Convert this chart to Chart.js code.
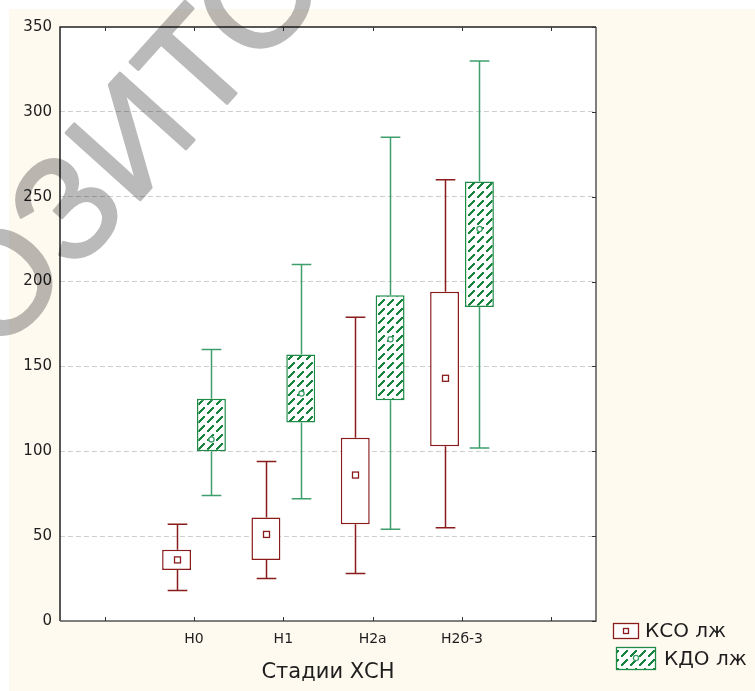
<!DOCTYPE html>
<html>
<head>
<meta charset="utf-8">
<script src="https://cdn.jsdelivr.net/npm/chart.js@4"></script>
<style>
  html, body { margin: 0; padding: 0; background: #fff; }
</style>
</head>
<body>
<canvas id="myChart" width="755" height="691"></canvas>
<script>
// stages on the x axis (empty slots at both ends, as in the original)
const stages = ['', 'Н0', 'Н1', 'Н2а', 'Н2б-3', ''];

// КСО лж
const ksoMin  = [null, 18, 25, 28, 55, null];
const ksoQ1   = [null, 30, 36, 57, 103, null];
const ksoMean = [null, 36, 51, 86, 143, null];
const ksoQ3   = [null, 42, 61, 108, 194, null];
const ksoMax  = [null, 57, 94, 179, 260, null];

// КДО лж
const kdoMin  = [null, 74, 72, 54, 102, null];
const kdoQ1   = [null, 100, 117, 130, 185, null];
const kdoMean = [null, 107, 134, 166, 231, null];
const kdoQ3   = [null, 131, 157, 192, 259, null];
const kdoMax  = [null, 160, 210, 285, 330, null];

const yTicks = [0, 50, 100, 150, 200, 250, 300, 350];

const RED = '#8a1c1c';
const GREEN = '#1d8a45';
const GREEN_LIGHT = '#3f9f6c';
const FONT = 'DejaVu Sans';

// diagonal dashed hatch for the КДО boxes
function hatch() {
    let c = document.createElement('canvas');
    c.width = 9;
    c.height = 9;
    let g = c.getContext('2d');
    g.fillStyle = '#fff';
    g.fillRect(0, 0, 9, 9);
    g.fillStyle = '#16843d';
    for (let k = 0; k < 6; k++) {
        g.fillRect(k, 7 - k, 2, 2);
    }
    return g.createPattern(c, 'repeat');
}
const pattern = hatch();

const boxes = [
    { min: ksoMin, q1: ksoQ1, mean: ksoMean, q3: ksoQ3, max: ksoMax, line: RED, whisk: RED, marker: 'rect' },
    { min: kdoMin, q1: kdoQ1, mean: kdoMean, q3: kdoQ3, max: kdoMax, line: GREEN, whisk: GREEN_LIGHT, marker: 'circle' }
];

function drawWatermark(chart) {
    // text is painted opaque on its own layer, then multiplied onto the chart
    let c = document.createElement('canvas');
    c.width = chart.width;
    c.height = chart.height;
    let g = c.getContext('2d');
    g.font = '145px "Liberation Sans"';
    g.fillStyle = '#bababa';
    g.strokeStyle = '#bababa';
    g.lineWidth = 3;
    g.lineJoin = 'round';
    g.translate(140, 200);
    g.rotate(-48 * Math.PI / 180);
    const x0 = -(g.measureText('РЕПОЗ').width + 0.08 * 145);
    g.fillText('РЕПОЗИТОРИЙ', x0, 0);
    g.strokeText('РЕПОЗИТОРИЙ', x0, 0);
    const ctx = chart.ctx;
    ctx.save();
    ctx.globalCompositeOperation = 'multiply';
    ctx.drawImage(c, 0, 0);
    ctx.restore();
}

const boxExtras = {
    id: 'boxExtras',
    beforeDraw(chart) {
        const ctx = chart.ctx;
        const a = chart.chartArea;
        ctx.save();
        ctx.fillStyle = '#fffaf0';
        ctx.fillRect(9, 9, chart.width - 9, chart.height - 9);
        ctx.fillStyle = '#fff';
        ctx.fillRect(a.left, a.top, a.right - a.left, a.bottom - a.top);
        ctx.restore();
    },
    afterDatasetsDraw(chart) {
        const ctx = chart.ctx;
        const y = chart.scales.y;
        ctx.save();
        boxes.forEach((b, di) => {
            const meta = chart.getDatasetMeta(di);
            meta.data.forEach((el, j) => {
                if (b.max[j] == null) return;
                const x = Math.round(el.x) + 0.5;
                const cap = el.width * 0.68;
                const yMax = y.getPixelForValue(b.max[j]);
                const yMin = y.getPixelForValue(b.min[j]);
                const yQ1 = y.getPixelForValue(b.q1[j]);
                const yQ3 = y.getPixelForValue(b.q3[j]);
                ctx.strokeStyle = b.whisk;
                ctx.lineWidth = 1.5;
                ctx.beginPath();
                ctx.moveTo(x, yMax); ctx.lineTo(x, yQ3);
                ctx.moveTo(x, yQ1); ctx.lineTo(x, yMin);
                ctx.moveTo(x - cap / 2, yMax); ctx.lineTo(x + cap / 2, yMax);
                ctx.moveTo(x - cap / 2, yMin); ctx.lineTo(x + cap / 2, yMin);
                ctx.stroke();
                const ym = y.getPixelForValue(b.mean[j]);
                ctx.lineWidth = 1.3;
                if (b.marker == 'rect') {
                    ctx.fillStyle = '#fff';
                    ctx.strokeStyle = RED;
                    ctx.fillRect(x - 3, ym - 3, 6, 6);
                    ctx.strokeRect(x - 3, ym - 3, 6, 6);
                } else {
                    ctx.fillStyle = '#fff';
                    ctx.strokeStyle = GREEN_LIGHT;
                    ctx.beginPath();
                    ctx.arc(x, ym, 2.6, 0, Math.PI * 2);
                    ctx.fill();
                    ctx.stroke();
                }
            });
        });
        ctx.restore();
    },
    afterDraw(chart) {
        const ctx = chart.ctx;
        const a = chart.chartArea;
        const xs = chart.scales.x;
        const ys = chart.scales.y;
        ctx.save();

        // frame
        ctx.lineWidth = 1.5;
        ctx.strokeStyle = '#222';
        ctx.beginPath();
        ctx.moveTo(a.left, a.bottom); ctx.lineTo(a.left, a.top); ctx.lineTo(a.right, a.top);
        ctx.stroke();
        ctx.strokeStyle = '#555';
        ctx.beginPath();
        ctx.moveTo(a.right, a.top); ctx.lineTo(a.right, a.bottom); ctx.lineTo(a.left, a.bottom);
        ctx.stroke();

        // inner tick marks
        ctx.lineWidth = 1;
        ctx.strokeStyle = '#333';
        ctx.beginPath();
        for (let i = 0; i < stages.length; i++) {
            const px = Math.round(xs.getPixelForValue(i)) + 0.5;
            ctx.moveTo(px, a.top); ctx.lineTo(px, a.top + 4);
            ctx.moveTo(px, a.bottom); ctx.lineTo(px, a.bottom - 4);
        }
        yTicks.forEach(v => {
            const py = Math.round(ys.getPixelForValue(v)) + 0.5;
            ctx.moveTo(a.right, py); ctx.lineTo(a.right - 4, py);
        });
        ctx.stroke();

        // legend
        ctx.fillStyle = '#fff';
        ctx.fillRect(613, 623, 25, 15);
        ctx.strokeStyle = RED;
        ctx.lineWidth = 1.3;
        ctx.strokeRect(613.5, 623.5, 25, 15);
        ctx.strokeRect(623.5, 628.5, 5, 5);
        ctx.fillStyle = pattern;
        ctx.fillRect(616, 647, 39, 22);
        ctx.strokeStyle = GREEN;
        ctx.strokeRect(616.5, 647.5, 39, 22);
        ctx.fillStyle = '#fff';
        ctx.strokeStyle = GREEN_LIGHT;
        ctx.beginPath();
        ctx.arc(636, 658, 2.6, 0, Math.PI * 2);
        ctx.fill();
        ctx.stroke();
        ctx.fillStyle = '#1e1e1e';
        ctx.font = '20px "' + FONT + '"';
        ctx.textBaseline = 'alphabetic';
        ctx.fillText('КСО лж', 645, 637);
        ctx.fillText('КДО лж', 664, 665);
        ctx.restore();

        drawWatermark(chart);
    }
};

new Chart('myChart', {
    type: 'bar',
    data: {
        labels: stages,
        datasets: [{
            label: 'КСО лж',
            data: ksoQ1.map((v, i) => v == null ? null : [v, ksoQ3[i]]),
            backgroundColor: '#fff',
            borderColor: RED,
            borderWidth: 1.5,
            borderSkipped: false
        }, {
            label: 'КДО лж',
            data: kdoQ1.map((v, i) => v == null ? null : [v, kdoQ3[i]]),
            backgroundColor: pattern,
            borderColor: GREEN,
            borderWidth: 1.5,
            borderSkipped: false
        }]
    },
    options: {
        responsive: false,
        animation: false,
        devicePixelRatio: 1,
        categoryPercentage: 0.78,
        barPercentage: 0.83,
        layout: { padding: { top: 27, right: 159, left: 0, bottom: 0 } },
        plugins: {
            legend: { display: false },
            tooltip: { enabled: false }
        },
        scales: {
            x: {
                offset: true,
                grid: { display: false, drawTicks: false },
                border: { display: false },
                ticks: { color: '#1e1e1e', font: { family: FONT, size: 14 }, padding: 10, autoSkip: false, maxRotation: 0 },
                title: { display: true, text: 'Стадии ХСН', color: '#1e1e1e', font: { family: FONT, size: 21 }, padding: { top: 0, bottom: 6 } },
                afterFit(s) { s.height = 70; }
            },
            y: {
                min: 0,
                max: 350,
                stacked: false,
                afterBuildTicks(s) { s.ticks = yTicks.map(v => ({ value: v })); },
                grid: {
                    color: c => (c.tick && c.tick.value > 0 && c.tick.value < 350) ? '#cfcfcf' : 'rgba(0,0,0,0)',
                    drawTicks: false
                },
                border: { display: false, dash: [5, 3] },
                ticks: { color: '#1e1e1e', font: { family: FONT, size: 15 }, padding: 8 },
                afterFit(s) { s.width = 60; }
            }
        }
    },
    plugins: [boxExtras]
});
</script>
</body>
</html>
